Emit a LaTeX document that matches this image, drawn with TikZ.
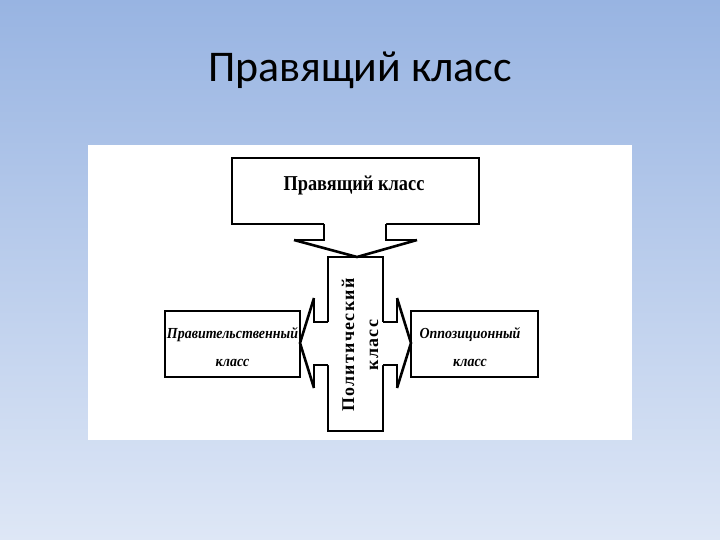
\documentclass[tikz,border=0pt]{standalone}
\usepackage{fontspec}
\setmainfont{Liberation Serif}
\newfontfamily\titlefont{Carlito}
\newfontfamily\spacedfont[LetterSpace=7]{Liberation Serif}
\definecolor{bgtop}{RGB}{152,180,226}
\definecolor{bgbot}{RGB}{222,231,246}
\tikzset{
  boxline/.style={draw=black, line width=1.6bp},
  blockarrow/.style={draw=black, line width=1.6bp, line join=miter},
  wedge/.style={draw=black, line width=2.6bp},
}
\begin{document}
\begin{tikzpicture}[x=1bp,y=-1bp]
\useasboundingbox (0,0) rectangle (720,540);
\shade[top color=bgtop, bottom color=bgbot] (0,0) rectangle (720,540);
% white panel
\fill[white] (88,145) rectangle (632,440);
% title
\node[anchor=base, font=\titlefont\fontsize{44}{50}\selectfont, text=black] (title) at (360,82) {Правящий класс};
% top box
\draw[boxline] (232,158) rectangle (479,224);
\node[font=\bfseries\fontsize{19}{22}\selectfont] (ruling) at (354,185) {\scalebox{0.97}[1.12]{Правящий класс}};
% down block arrow
\fill[white] (324,222) -- (324,240) -- (294,240) -- (357,257) -- (417,240) -- (386,240) -- (386,222) -- cycle;
\draw[blockarrow] (324,224) -- (324,240) -- (294,240);
\draw[blockarrow] (417,240) -- (386,240) -- (386,224);
\draw[wedge] (294,240) -- (357,257) -- (417,240);
% side boxes
\draw[boxline] (165,311) rectangle (300,377);
\node[font=\bfseries\itshape\fontsize{14}{28}\selectfont, align=center] (gov) at (232.5,347) {\scalebox{1}[1.1]{Правительственный}\\\scalebox{1}[1.1]{класс}};
\draw[boxline] (411,311) rectangle (538,377);
\node[font=\bfseries\itshape\fontsize{14}{28}\selectfont, align=center] (opp) at (470,347) {\scalebox{1}[1.1]{Оппозиционный}\\\scalebox{1}[1.1]{класс}};
% political class vertical box
\draw[boxline] (328,257) rectangle (383,431);
% left block arrow
\fill[white] (330,322) -- (314,322) -- (314,298) -- (300,343) -- (314,388) -- (314,365) -- (330,365) -- cycle;
\draw[blockarrow] (328,322) -- (314,322) -- (314,298);
\draw[blockarrow] (314,388) -- (314,365) -- (328,365);
\draw[wedge] (314,298) -- (300,343) -- (314,388);
% right block arrow
\fill[white] (381,322) -- (397,322) -- (397,298) -- (411,343) -- (397,388) -- (397,365) -- (381,365) -- cycle;
\draw[blockarrow] (383,322) -- (397,322) -- (397,298);
\draw[blockarrow] (397,388) -- (397,365) -- (383,365);
\draw[wedge] (397,298) -- (411,343) -- (397,388);
% vertical text
\node[rotate=90, font=\spacedfont\bfseries\fontsize{18}{24}\selectfont, align=center] (pol) at (360,345) {Политический\\класс};
\end{tikzpicture}
\end{document}
